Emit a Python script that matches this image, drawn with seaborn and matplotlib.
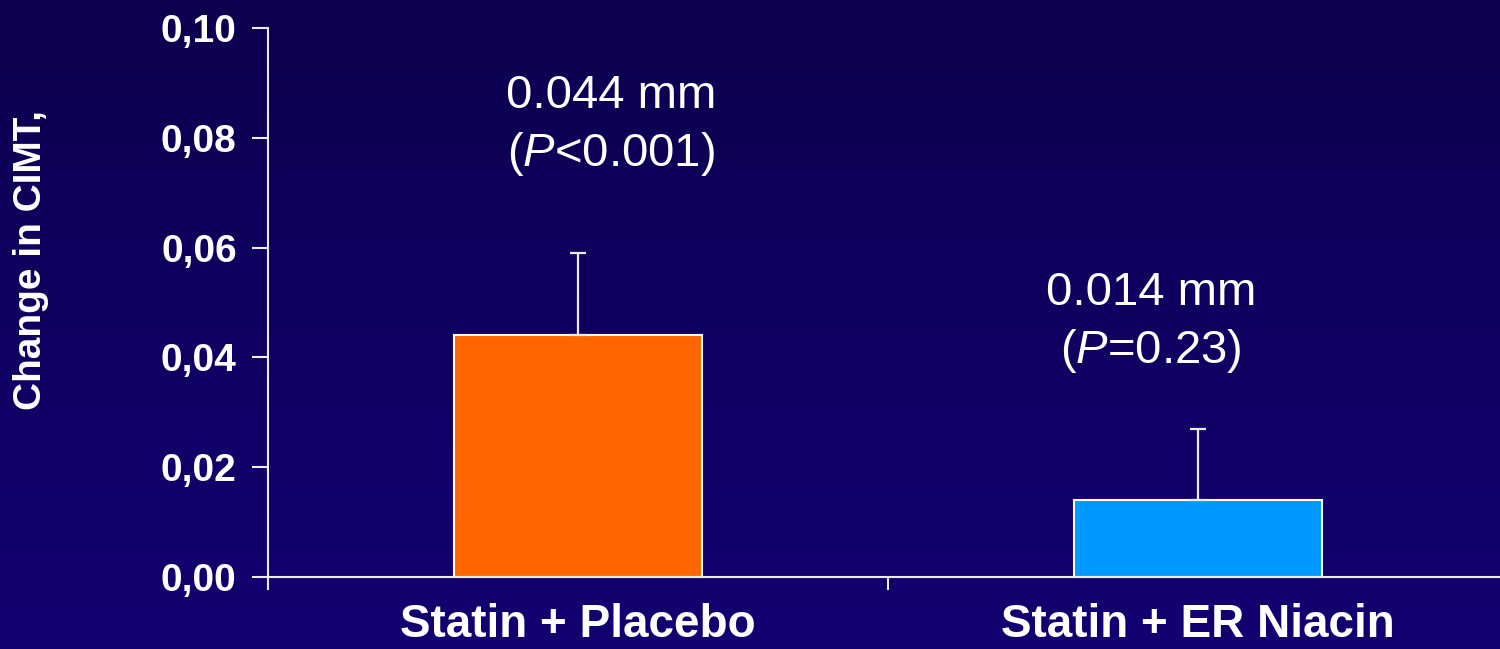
import numpy as np
import pandas as pd
import matplotlib
matplotlib.use("Agg")
import matplotlib.pyplot as plt
import seaborn as sns

# values
groups = ["Statin + Placebo", "Statin + ER Niacin"]
change_cimt = [0.044, 0.014]
upper_err = [0.015, 0.013]
bar_colors = ["#ff6600", "#0099ff"]
value_labels = ["0.044 mm", "0.014 mm"]
p_labels = [r"($\mathit{P}$<0.001)", r"($\mathit{P}$=0.23)"]
y_ticks = [0.00, 0.02, 0.04, 0.06, 0.08, 0.10]
y_ticklabels = ["0,00", "0,02", "0,04", "0,06", "0,08", "0,10"]

sns.set_style("white")
plt.rcParams["font.family"] = ["Liberation Sans", "DejaVu Sans"]
plt.rcParams["mathtext.fontset"] = "custom"
plt.rcParams["mathtext.rm"] = "Liberation Sans"
plt.rcParams["mathtext.it"] = "Liberation Sans:italic"

fg = "#ececec"
fig = plt.figure(figsize=(15, 6.49), dpi=100)

# dark blue gradient background
bg = fig.add_axes([0, 0, 1, 1], zorder=-10)
grad = np.linspace(0, 1, 256).reshape(-1, 1)
cmap = matplotlib.colors.LinearSegmentedColormap.from_list("bg", ["#0b004f", "#130072"])
bg.imshow(grad, aspect="auto", cmap=cmap, extent=[0, 1, 0, 1], origin="upper")
bg.set_axis_off()

ax = fig.add_axes([268 / 1500, 0.0924, 1 - 268 / 1500, 0.8644])
ax.set_facecolor("none")

df = pd.DataFrame({"group": groups, "value": change_cimt})
sns.barplot(data=df, x="group", y="value", hue="group", order=groups,
            palette=bar_colors, saturation=1, width=0.4, edgecolor="white",
            linewidth=1.5, errorbar=None, legend=False, ax=ax)

ax.errorbar(range(len(groups)), change_cimt,
            yerr=[np.zeros(len(groups)), upper_err],
            fmt="none", ecolor=fg, elinewidth=1.6, capsize=6, capthick=1.6,
            zorder=1)

# annotation placement (layout only)
label_dx = [0.053, -0.076]
label_y = [(0.0876, 0.0771), (0.0518, 0.0412)]
for i in range(len(groups)):
    ax.text(i + label_dx[i], label_y[i][0], value_labels[i], ha="center",
            va="center", color="white", fontsize=34)
    ax.text(i + label_dx[i], label_y[i][1], p_labels[i], ha="center",
            va="center", color="white", fontsize=34)

ax.set_xlim(-0.5, 1.487)
ax.set_ylim(-0.0022, 0.1)
ax.spines["bottom"].set_position(("data", 0))
for s in ["top", "right"]:
    ax.spines[s].set_visible(False)
for s in ["left", "bottom"]:
    ax.spines[s].set_color(fg)
    ax.spines[s].set_linewidth(1.5)

ax.set_yticks(y_ticks)
ax.set_yticklabels(y_ticklabels, fontsize=28, fontweight="bold", color="white")
ax.tick_params(axis="y", direction="out", length=11.5, width=1.5, color=fg, pad=11, left=True)

ax.set_xticks(range(len(groups)))
ax.set_xticklabels(groups, fontsize=33, fontweight="bold", color="white")
ax.set_xticks([0.5], minor=True)
ax.tick_params(axis="x", which="major", length=0, pad=19)
ax.tick_params(axis="x", which="minor", direction="out", length=9, width=1.5, color=fg, bottom=True)

ax.set_xlabel("")
ax.set_ylabel("Change in CIMT,", fontsize=28, fontweight="bold", color="white")
ax.yaxis.set_label_coords(-0.178, 0.587)

fig.savefig("out.png", dpi=100)
